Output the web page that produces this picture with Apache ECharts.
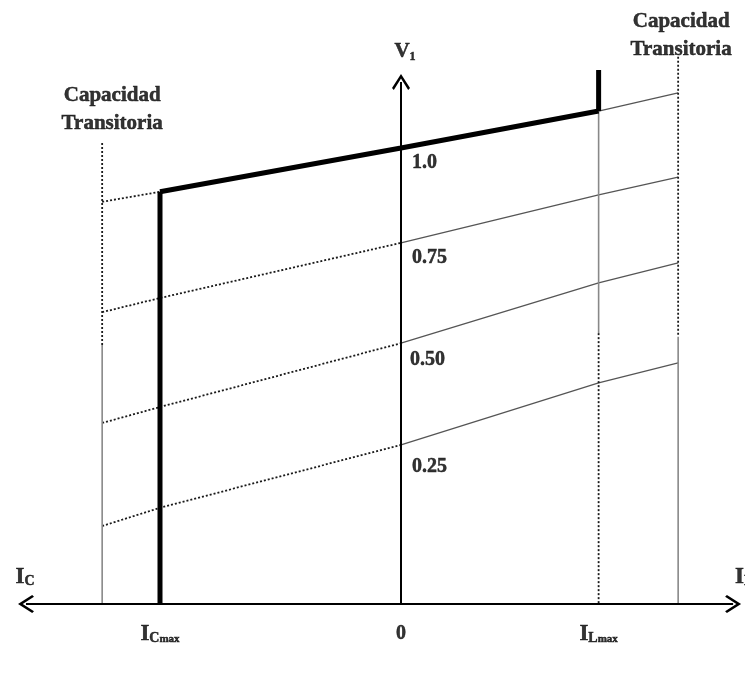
<!DOCTYPE html>
<html>
<head>
<meta charset="utf-8">
<script src="https://cdn.jsdelivr.net/npm/echarts@6/dist/echarts.min.js"></script>
<style>
html,body{margin:0;padding:0;background:#fff;}
#chart{width:745px;height:678px;}
</style>
</head>
<body>
<div id="chart"></div>
<script>
// ---- data (current in per-unit of I_Cmax, voltage in arbitrary p.u.) ----
const xLeftTrans = -1.24;   // capacidad transitoria (capacitiva)
const xICmax = -1.0;
const xZero = 0;
const xILmax = 0.82;
const xRightTrans = 1.15;   // capacidad transitoria (inductiva)
const familyX = [xLeftTrans, xICmax, xZero, xILmax, xRightTrans];
const familyNames = ['1.0', '0.75', '0.50', '0.25'];
const family100 = [0.882, 0.904, 1.000, 1.081, 1.121];
const family075 = [0.640, 0.671, 0.792, 0.897, 0.936];
const family050 = [0.397, 0.432, 0.572, 0.704, 0.748];
const family025 = [0.171, 0.211, 0.349, 0.485, 0.529];
const leftTransTop = 1.011, leftTransDotEnd = 0.568;
const rightTransTop = 1.200, rightTransDotEnd = 0.586;
const ilmaxSolidEnd = 0.594;
const stubTop = 1.171;
const vAxisTip = 1.145;
const hAxisLeft = -1.556, hAxisRight = 1.378;
const tickX = [xICmax, xZero, xILmax];
const tickLabels = ['{i|I}{s|C}{m|max}', '{z|0}', '{i|I}{s|L}{m|max}'];

// ---- styles ----
const FONT = 'Liberation Serif';
const thin = {color: '#555', width: 1.3, type: 'solid'};
const dots = {color: '#1a1a1a', width: 1.8, type: [2, 2]};
const thick = {color: '#000', width: 5, type: 'solid'};
const greyV = {color: '#888', width: 1.6, type: 'solid'};

function seg(points, style) {
  return {type: 'line', data: points, showSymbol: false, symbol: 'none', silent: true,
          lineStyle: style, animation: false, z: style.width > 3 ? 5 : 2};
}
const series = [];
const fams = [family100, family075, family050, family025];
fams.forEach((f, k) => {
  if (k === 0) {
    series.push(seg([[familyX[0], f[0]], [familyX[1], f[1]]], dots));
    series.push(seg([[familyX[1], f[1]], [familyX[2], f[2]], [familyX[3], f[3]]], thick));
    series.push(seg([[familyX[3], f[3]], [familyX[4], f[4]]], thin));
  } else {
    series.push(seg([[familyX[0], f[0]], [familyX[1], f[1]], [familyX[2], f[2]]], dots));
    series.push(seg([[familyX[2], f[2]], [familyX[3], f[3]], [familyX[4], f[4]]], thin));
  }
});
// vertical limits
series.push(seg([[xLeftTrans, leftTransTop], [xLeftTrans, leftTransDotEnd]], dots));
series.push(seg([[xLeftTrans, leftTransDotEnd], [xLeftTrans, 0]], greyV));
series.push(seg([[xRightTrans, rightTransTop], [xRightTrans, rightTransDotEnd]], dots));
series.push(seg([[xRightTrans, rightTransDotEnd], [xRightTrans, 0]], greyV));
series.push(seg([[xILmax, family100[3]], [xILmax, ilmaxSolidEnd]], greyV));
series.push(seg([[xILmax, ilmaxSolidEnd], [xILmax, 0]], dots));
series.push(seg([[xICmax, 0], [xICmax, family100[1]]], thick));
series.push(seg([[xILmax, family100[3]], [xILmax, stubTop]], thick));

// axes with arrows
const chevron = 'path://M50,0 L100,78 L90,88 L50,26 L10,88 L0,78 Z';
series.push({
  type: 'line', data: [], silent: true, animation: false,
  markLine: {
    silent: true, animation: false,
    symbol: [chevron, chevron], symbolSize: [18, 16],
    label: {show: false},
    lineStyle: {color: '#000', width: 2, type: 'solid'},
    data: [
      [{coord: [hAxisLeft, 0]}, {coord: [hAxisRight, 0]}]
    ]
  }
});
series.push({
  type: 'line', data: [], silent: true, animation: false,
  markLine: {
    silent: true, animation: false,
    symbol: ['none', chevron], symbolSize: [18, 16],
    label: {show: false},
    lineStyle: {color: '#000', width: 2, type: 'solid'},
    data: [
      [{coord: [xZero, 0]}, {coord: [xZero, vAxisTip]}]
    ]
  }
});

// text labels anchored on data coordinates
const bold = {fontFamily: FONT, fontWeight: 'bold', color: '#000', textBorderColor: '#000', textBorderWidth: 0.5};
const richSub = {
  i: Object.assign({fontSize: 23}, bold),
  s: Object.assign({fontSize: 14, padding: [9, 0, 0, 0]}, bold),
  m: Object.assign({fontSize: 11, padding: [10, 0, 0, 0]}, bold),
  z: Object.assign({fontSize: 20}, bold),
  v: Object.assign({fontSize: 21}, bold),
  n: Object.assign({fontSize: 12, padding: [10, 0, 0, 0]}, bold)
};
const labelOffsets = [[11, 15], [11, 15], [9, 17], [11, 22]];
const textData = [];
familyNames.forEach((nm, k) => {
  textData.push({value: [xZero, fams[k][2]],
    label: Object.assign({show: true, formatter: nm, position: labelOffsets[k], align: 'left', verticalAlign: 'middle',
            fontSize: 20}, bold)});
});
tickX.forEach((x, k) => {
  textData.push({value: [x, 0],
    label: {show: true, formatter: tickLabels[k], position: [0, 30], align: 'center', verticalAlign: 'middle', rich: richSub}});
});
textData.push({value: [hAxisLeft, 0],
  label: {show: true, formatter: '{i|I}{s|C}', position: [-1, -27], align: 'center', verticalAlign: 'middle', rich: richSub}});
textData.push({value: [hAxisRight, 0],
  label: {show: true, formatter: '{i|I}{s|L}', position: [2, -27], align: 'left', verticalAlign: 'middle', rich: richSub}});
textData.push({value: [xZero, vAxisTip],
  label: {show: true, formatter: '{v|V}{n|1}', position: [4, -30], align: 'center', verticalAlign: 'middle', rich: richSub}});
const transLabel = 'Capacidad\nTransitoria';
textData.push({value: [xLeftTrans, leftTransTop],
  label: Object.assign({show: true, formatter: transLabel, position: [10, -33], align: 'center', verticalAlign: 'middle',
          fontSize: 21, lineHeight: 28}, bold)});
textData.push({value: [xRightTrans, rightTransTop],
  label: Object.assign({show: true, formatter: transLabel, position: [3, -21], align: 'center', verticalAlign: 'middle',
          fontSize: 21, lineHeight: 28}, bold)});
series.push({type: 'scatter', data: textData, symbolSize: 0, silent: true, animation: false, z: 10});

const chart = echarts.init(document.getElementById('chart'));
chart.setOption({
  backgroundColor: '#fff',
  animation: false,
  grid: {left: 0, right: 0, top: 0, bottom: 0, containLabel: false},
  xAxis: {type: 'value', min: -401 / 241, max: 344 / 241, show: false},
  yAxis: {type: 'value', min: -74 / 456, max: 604 / 456, show: false},
  series: series
});
</script>
</body>
</html>
